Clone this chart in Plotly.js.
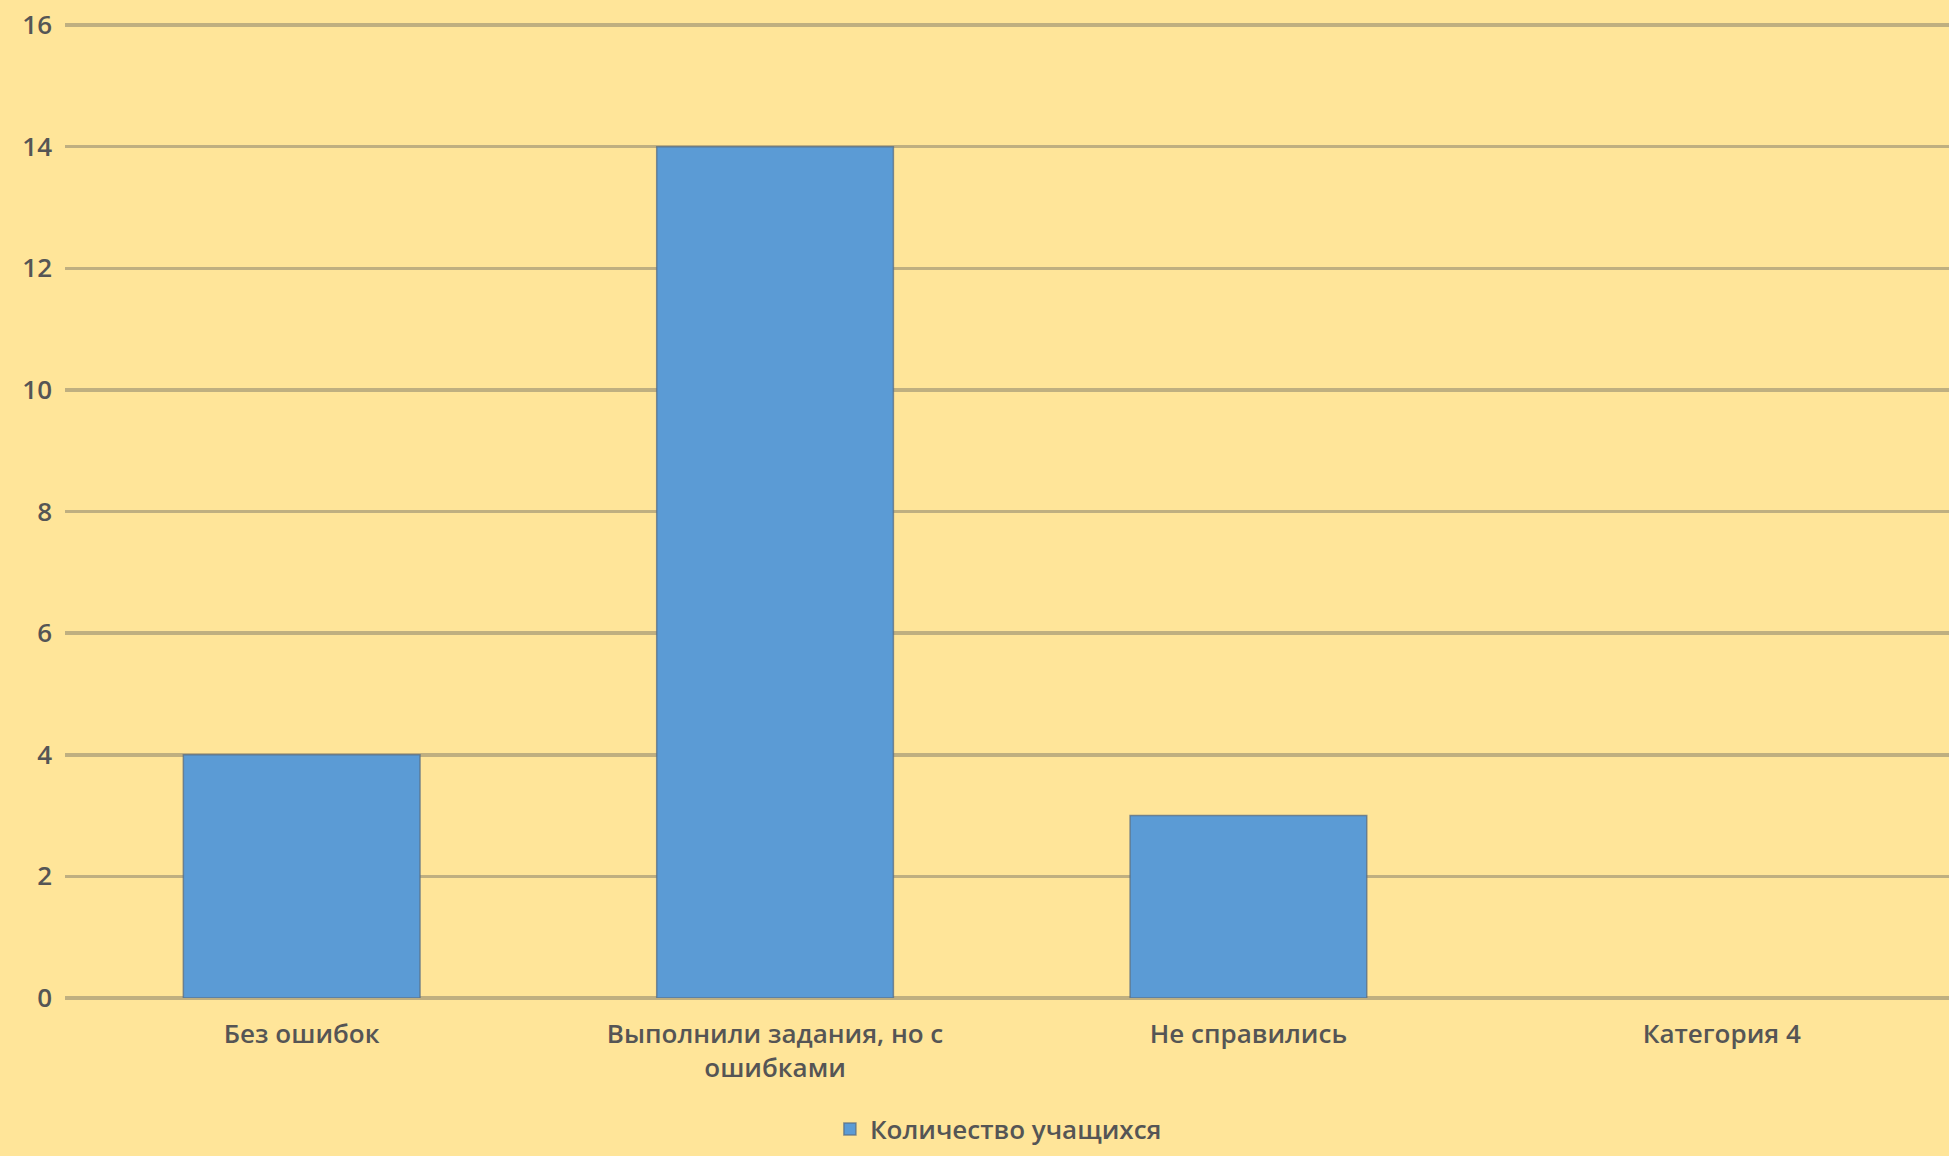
<!DOCTYPE html>
<html>
<head>
<meta charset="utf-8">
<script src="https://cdn.plot.ly/plotly-3.0.1.min.js"></script>
<style>html,body{margin:0;padding:0;background:#FFE599;}#chart{width:1949px;height:1156px;}</style>
</head>
<body>
<div id="chart"></div>
<script>
const categories = ["Без ошибок", "Выполнили задания, но с<br>ошибками", "Не справились", "Категория 4"];
const values = [4, 14, 3, 0];
const seriesName = "Количество учащихся";
const yTicks = [0, 2, 4, 6, 8, 10, 12, 14, 16];

const trace = {
  type: "bar",
  x: categories,
  y: values,
  name: seriesName,
  marker: {
    color: "#5B9BD5",
    line: {color: "rgba(90,110,130,0.75)", width: values.map(v => v > 0 ? 1.5 : 0)}
  },
  showlegend: true
};

const txt = {family: "Open Sans, sans-serif", size: 26, color: "#555555", weight: 600};

const layout = {
  width: 1949, height: 1156,
  paper_bgcolor: "#FFE599",
  plot_bgcolor: "#FFE599",
  margin: {l: 65, r: 0, t: 19, b: 158},
  bargap: 0.5,
  font: txt,
  xaxis: {
    type: "category",
    range: [-0.5, 3.48],
    showgrid: false, zeroline: false, showline: false,
    ticks: "", tickfont: txt,
    ticklabelstandoff: 18
  },
  yaxis: {
    range: [0, 16.1],
    tickvals: yTicks,
    showgrid: true, gridcolor: "#BFAF80", gridwidth: 3.5,
    zeroline: true, zerolinecolor: "#BFAF80", zerolinewidth: 3.5,
    showline: false, ticks: "",
    tickfont: txt,
    ticklabelstandoff: 12
  },
  legend: {
    orientation: "h", x: 0.406, xanchor: "left", y: -0.134, yanchor: "middle",
    font: txt, bgcolor: "rgba(0,0,0,0)", borderwidth: 0
  },
  showlegend: true
};

Plotly.newPlot("chart", [trace], layout, {displayModeBar: false, staticPlot: true});
</script>
</body>
</html>
